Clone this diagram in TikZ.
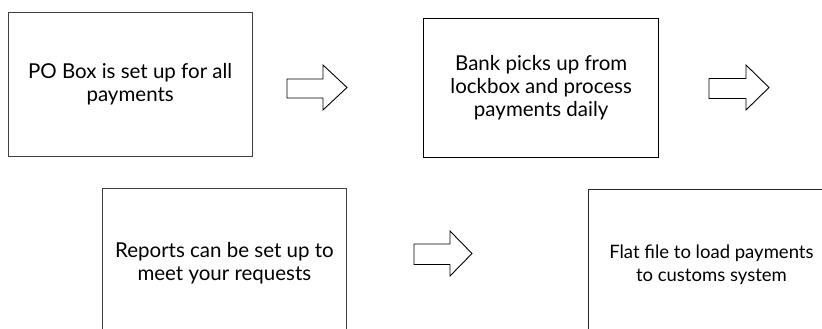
\documentclass[tikz,border=0pt]{standalone}
\usepackage{fontspec}
\setmainfont{Lato}
\begin{document}
\begin{tikzpicture}[x=1pt,y=-1pt,
  box/.style={draw=black!75,line width=0.8pt,align=center,anchor=north west,inner sep=0pt,
    font=\fontsize{20.5}{23}\selectfont},
  boldbox/.style={box,draw=black,line width=1.4pt},
  blockarrow/.style={draw=black,line width=0.9pt,line join=miter,fill=white}]
\useasboundingbox (0,0) rectangle (822,329);
\clip (0,0) rectangle (822,329);
\node[box,minimum width=244.5pt,minimum height=144pt] (po) at (7.5,12)
  {PO Box is set up for all\\payments};
\node[boldbox,minimum width=235pt,minimum height=139pt] (bank) at (423,18)
  {Bank picks up from\\lockbox and process\\payments daily};
\node[box,minimum width=244pt,minimum height=150pt] (rep) at (102,188)
  {Reports can be set up to\\meet your requests};
\node[box,draw=black!85,minimum width=246pt,minimum height=150pt,
  font=\fontsize{18.5}{23}\selectfont] (flat) at (588,189)
  {Flat file to load payments\\to customs system};
\draw[blockarrow] (287,79) -- (323,79) -- (323,65) -- (347,87.5) -- (323,110) -- (323,98) -- (287,98) -- cycle;
\draw[blockarrow] (709,78.5) -- (746,78.5) -- (746,65) -- (769,87.5) -- (746,110) -- (746,98.5) -- (709,98.5) -- cycle;
\draw[blockarrow] (414,244) -- (450,244) -- (450,231) -- (472,253.5) -- (450,276) -- (450,264.5) -- (414,264.5) -- cycle;
\end{tikzpicture}
\end{document}
